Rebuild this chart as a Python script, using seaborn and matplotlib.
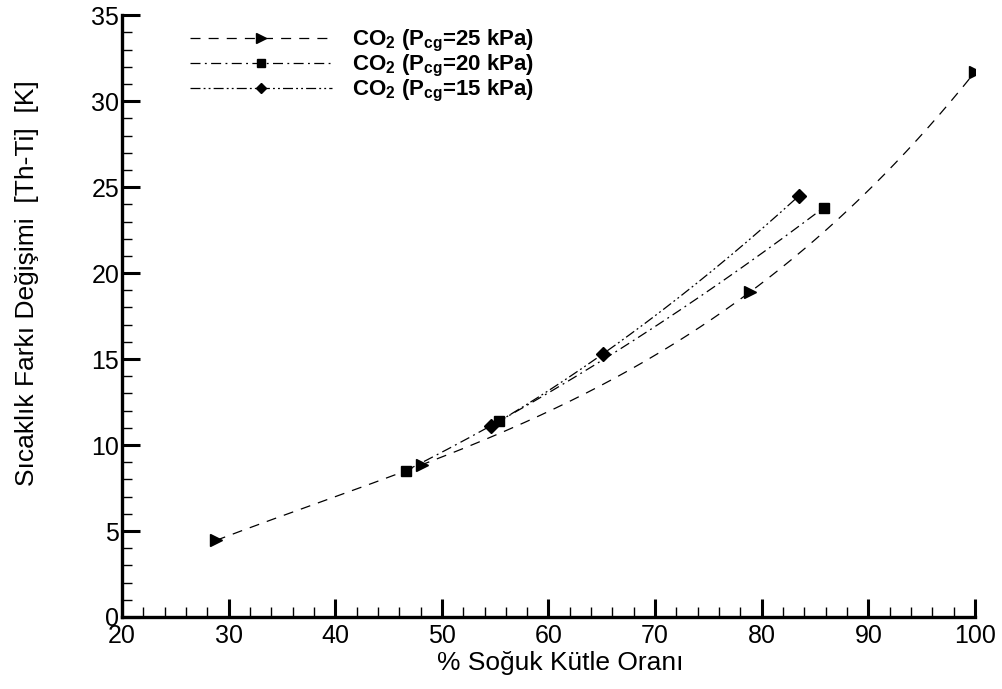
import numpy as np
import matplotlib
matplotlib.use("Agg")
import matplotlib.pyplot as plt
import seaborn as sns
from matplotlib.lines import Line2D
from matplotlib.ticker import MultipleLocator

# data
x25 = [28.8, 48.1, 78.9, 100.0]
y25 = [4.45, 8.85, 18.9, 31.7]
x20 = [46.6, 55.4, 85.8]
y20 = [8.5, 11.4, 23.8]
x15 = [54.6, 65.1, 83.5]
y15 = [11.1, 15.3, 24.5]
labels = [r"CO$_\mathbf{2}$ (P$_\mathbf{cg}$=25 kPa)",
          r"CO$_\mathbf{2}$ (P$_\mathbf{cg}$=20 kPa)",
          r"CO$_\mathbf{2}$ (P$_\mathbf{cg}$=15 kPa)"]

sns.set_style("ticks")
plt.rcParams['font.family'] = ['Liberation Sans', 'DejaVu Sans']
plt.rcParams['mathtext.fontset'] = 'custom'
plt.rcParams['mathtext.rm'] = 'Liberation Sans'
plt.rcParams['mathtext.bf'] = 'Liberation Sans:bold'
for k in ['text.color', 'axes.labelcolor', 'xtick.color', 'ytick.color', 'axes.edgecolor']:
    plt.rcParams[k] = 'black'

fig = plt.figure(figsize=(10.03, 6.89), dpi=100)
ax = fig.add_axes([0.1216, 0.1045, 0.8505, 0.8735])

series = [(x25, y25, '>', 8, (0, (8, 6.5))),
          (x20, y20, 's', 7.5, (0, (8, 3.5, 1.5, 3.5))),
          (x15, y15, 'D', 7, (0, (8, 2.5, 1.5, 2.5, 1.5, 2.5)))]

handles = []
for (xs, ys, mk, ms, ls), lab in zip(series, labels):
    xs = np.array(xs); ys = np.array(ys)
    # smooth curve through the points (exact polynomial through them)
    c = np.polyfit(xs, ys, len(xs) - 1)
    xx = np.linspace(xs.min(), xs.max(), 200)
    sns.lineplot(x=xx, y=np.polyval(c, xx), ax=ax, color='black', lw=0.9,
                 linestyle=ls, estimator=None, sort=False)
    ax.plot(xs, ys, marker=mk, ms=ms, color='black', ls='none', zorder=5)
    handles.append(Line2D([], [], color='black', lw=0.9, linestyle=ls,
                          marker=mk, ms=ms - 1.5))

ax.set_xlim(20, 100)
ax.set_ylim(0, 35)
ax.xaxis.set_major_locator(MultipleLocator(10))
ax.xaxis.set_minor_locator(MultipleLocator(2))
ax.yaxis.set_major_locator(MultipleLocator(5))
ax.yaxis.set_minor_locator(MultipleLocator(1))
ax.tick_params(which='major', direction='in', length=13, width=2.2,
               labelsize=18, pad=2)
ax.tick_params(axis='x', which='major', pad=5)
ax.tick_params(which='minor', direction='in', length=7, width=1)
sns.despine(ax=ax)
for s in ['left', 'bottom']:
    ax.spines[s].set_linewidth(2.4)

ax.set_xlabel('% Soğuk Kütle Oranı', fontsize=19)
ax.set_ylabel('Sıcaklık Farkı Değişimi  [Th-Ti]  [K]', fontsize=19)
ax.xaxis.set_label_coords(0.5135, -0.056)
ax.yaxis.set_label_coords(-0.097, 0.554)

leg = ax.legend(handles, labels, loc='upper left', bbox_to_anchor=(0.08, 0.978),
                frameon=False, handlelength=6.4, numpoints=1, labelspacing=-0.05,
                handletextpad=0.9, borderpad=0, borderaxespad=0,
                prop={'weight': 'bold', 'size': 16})

fig.savefig('out.png', dpi=100)
